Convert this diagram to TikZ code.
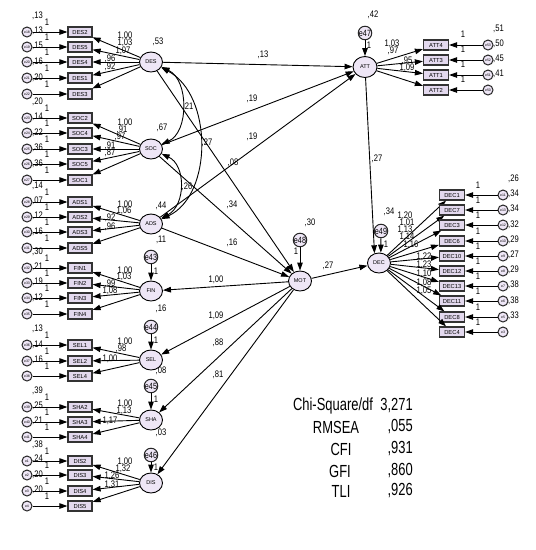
\documentclass[tikz,border=0pt]{standalone}
\usepackage{fontspec}
\setmainfont{Liberation Sans}
\newfontfamily\nf[FakeStretch=0.8]{Liberation Sans}
\newfontfamily\ff[FakeStretch=0.74]{Liberation Sans}
\usetikzlibrary{arrows.meta,shapes.geometric}
\definecolor{boxfill}{HTML}{E3D9EE}
\definecolor{latfill}{HTML}{EEE6F6}
\tikzset{
  lat/.style={ellipse, draw=black, line width=0.9pt, fill=latfill, minimum width=23pt, minimum height=20pt, inner sep=0pt, font=\fontsize{5.5}{6}\selectfont},
  obs/.style={rectangle, draw=black!80, line width=1.2pt, fill=boxfill, minimum width=24pt, minimum height=10pt, inner sep=0pt, font=\fontsize{5.8}{6}\selectfont},
  err/.style={circle, draw=black!85, line width=1pt, fill=latfill, minimum size=10pt, inner sep=0pt, font=\fontsize{3.5}{4}\selectfont},
  dist/.style={circle, draw=black!85, line width=1pt, fill=latfill, minimum size=11pt, inner sep=0pt, font=\nf\fontsize{9}{9}\selectfont},
  arr/.style={-{Triangle[length=8pt,width=5.5pt]}, line width=0.9pt},
  cov/.style={{Triangle[length=8pt,width=5.5pt]}-{Triangle[length=8pt,width=5.5pt]}, line width=0.9pt},
  num/.style={font=\nf\fontsize{9.5}{10}\selectfont, inner sep=0pt},
  fit/.style={font=\ff\fontsize{17.5}{18}\selectfont, inner sep=0pt}
}
\begin{document}
\begin{tikzpicture}[x=1pt,y=-1pt]
\useasboundingbox[fill=white] (0,0) rectangle (536,550);

% latent variables
\node[lat] (DES) at (151,62) {DES};
\node[lat] (SOC) at (151,149) {SOC};
\node[lat] (ADS) at (151,224) {ADS};
\node[lat] (FIN) at (151,291) {FIN};
\node[lat] (SEL) at (151,360) {SEL};
\node[lat] (SHA) at (151,420) {SHA};
\node[lat] (DIS) at (151,483) {DIS};
\node[lat] (MOT) at (300,281) {MOT};
\node[lat, minimum width=24pt, minimum height=21pt] (ATT) at (365,67) {ATT};
\node[lat] (DEC) at (379,263) {DEC};

% variances of exogenous latents
\node[num] at (158,42) {,53};
\node[num] at (162,128) {,67};
\node[num] at (161,206) {,44};

% left measurement blocks
\foreach \L/\rows in {DES/{DES2/32/e18/13/{1,00}/125/36, DES5/47/e19/13/{1,03}/125/43, DES4/62/e20/15/{1,07}/123/51, DES1/78/e21/16/{,96}/110/59, DES3/94/e22/20/{,92}/110/67},
  SOC/{SOC2/118/e23/20/{1,00}/125/123, SOC4/133/e24/14/{,91}/122/130, SOC3/149/e25/22/{,97}/120/137, SOC5/164/e26/36/{,91}/110/146, SOC1/180/e27/36/{,87}/110/153},
  ADS/{ADS1/202/e28/14/{1,00}/125/205, ADS2/217/e29/07/{1,06}/124/211, ADS3/232/e30/12/{,92}/110/218, ADS5/248/e31/16/{,96}/110/227},
  FIN/{FIN1/268/e32/30/{1,00}/125/271, FIN2/283/e33/21/{1,03}/124/277, FIN3/298/e34/19/{,99}/110/284, FIN4/314/e35/12/{1,08}/110/291},
  SEL/{SEL1/345/e36/13/{1,00}/125/342, SEL2/361/e37/14/{,98}/121/349, SEL4/376/e38/16/{1,00}/110/359},
  SHA/{SHA2/407/e39/39/{1,00}/125/404, SHA3/422/e40/25/{1,13}/124/411, SHA4/437/e41/21/{1,17}/110/421},
  DIS/{DIS2/461/e1/38/{1,00}/125/462, DIS3/475/e2/24/{1,32}/123/469, DIS4/491/e3/20/{1,26}/112/476, DIS5/506/e4/20/{1,31}/112/485}}{
  \foreach \n/\y/\en/\v/\ld/\lx/\ly in \rows {
    \node[obs] (\n) at (80,\y) {\n};
    \node[num, anchor=west] at (32,\y-16) {,\v};
    \node[err] (e-\n) at (27,\y) {\en};
    \node[num] at (47,\y-10) {1};
    \draw[arr] (e-\n) -- (\n);
    \draw[arr] (\L) -- (\n);
    \node[num] at (\lx,\ly) {\ld};
  }
}

% ATT block
\foreach \n/\y/\en/\v/\ld/\lx/\ly in {ATT4/45/e53/51/{1,03}/392/44, ATT3/60/e52/50/{,97}/393/51, ATT1/75/e51/45/{,95}/407/61, ATT2/90/e50/41/{1,09}/407/68}{
  \node[obs, minimum width=25pt] (\n) at (436,\y) {\n};
  \node[num, anchor=west] at (493,\y-16) {,\v};
  \node[err] (e-\n) at (488,\y) {\en};
  \node[num] at (463,\y-11) {1};
  \draw[arr] (e-\n) -- (\n);
  \draw[arr] (ATT) -- (\n);
  \node[num] at (\lx,\ly) {\ld};
}

% DEC block
\foreach \n/\y/\en/\v in {DEC1/195/e11/26, DEC7/210/e13/34, DEC3/225/e12/34, DEC6/241/e10/32, DEC10/256/e9/29, DEC12/271/e8/27, DEC13/286/e7/29, DEC11/301/e6/38, DEC8/317/e5/38, DEC4/332/e3/33}{
  \node[obs, minimum width=25pt] (\n) at (452,\y) {\n};
  \node[num, anchor=west] at (508,\y-16) {,\v};
  \node[err] (e-\n) at (503,\y) {\en};
  \node[num] at (478,\y-10) {1};
  \draw[arr] (e-\n) -- (\n);
  \draw[arr] (DEC) -- (\n);
}
\foreach \ld/\lx/\ly in {{1,20}/405/216, {1,01}/407/223, {1,13}/405/230, {1,14}/407/237, {1,16}/411/245, {1,22}/424/257, {1,23}/424/265, {1,10}/424/274, {1,08}/424/283, {1,05}/424/291}{
  \node[num] at (\lx,\ly) {\ld};
}

% disturbances
\foreach \d/\x/\y/\t/\v/\vx/\vy/\ox/\oy in {FIN/151/257/e43/11/161/240/156/271, SEL/151/327/e44/16/161/309/156/340, SHA/151/386/e45/08/161/371/156/399, DIS/151/455/e46/03/161/433/156/467, MOT/300/240/e48/30/310/223/296/251}{
  \node[num] at (\vx,\vy) {,\v};
  \node[dist] (d-\d) at (\x,\y) {\t};
  \draw[arr] (d-\d) -- (\d);
  \node[num] at (\ox,\oy) {1};
}
\node[num] at (373,15) {,42};
\node[dist] (d-ATT) at (365,33) {e47};
\draw[arr] (d-ATT) -- (ATT);
\node[num] at (369,45) {1};
\node[num] at (389,212) {,34};
\node[dist] (d-DEC) at (381,231) {e49};
\draw[arr] (d-DEC) -- (DEC.80);
\node[num] at (386,244) {1};

% covariances
\draw[cov] (DES) .. controls (189,80) and (189,132) .. (SOC);
\draw[cov] (DES) .. controls (213,95) and (213,195) .. (ADS);
\draw[cov] (SOC) .. controls (186,165) and (186,205) .. (ADS);
\node[num] at (188,107) {,21};
\node[num] at (207,143) {,27};
\node[num] at (187,187) {,26};

% structural paths
\draw[arr] (DES) -- (ATT);
\draw[arr] (SOC) -- (ATT);
\draw[arr] (ADS) -- (ATT);
\draw[arr] (DES) -- (MOT);
\draw[arr] (SOC) -- (MOT);
\draw[arr] (ADS) -- (MOT);
\draw[arr] (MOT) -- (DEC);
\draw[arr] (ATT) -- (DEC.115);
\draw[arr] (MOT) -- (FIN);
\draw[arr] (MOT) -- (SEL);
\draw[arr] (MOT) -- (SHA);
\draw[arr] (MOT) -- (DIS);
\node[num] at (263,55) {,13};
\node[num] at (252,99) {,19};
\node[num] at (252,137) {,19};
\node[num] at (233,163) {,08};
\node[num] at (232,205) {,34};
\node[num] at (232,243) {,16};
\node[num] at (328,266) {,27};
\node[num] at (377,159) {,27};
\node[num] at (216,280) {1,00};
\node[num] at (216,316) {1,09};
\node[num] at (218,343) {,88};
\node[num] at (218,375) {,81};

% fit indices
\node[fit] at (333,406) {Chi-Square/df};
\node[fit] at (336,427) {RMSEA};
\node[fit] at (341,449) {CFI};
\node[fit] at (340,471) {GFI};
\node[fit] at (341,491) {TLI};
\node[fit, anchor=east] at (413,406) {3,271};
\node[fit, anchor=east] at (413,427) {,055};
\node[fit, anchor=east] at (413,449) {,931};
\node[fit, anchor=east] at (413,471) {,860};
\node[fit, anchor=east] at (413,491) {,926};
\end{tikzpicture}
\end{document}
